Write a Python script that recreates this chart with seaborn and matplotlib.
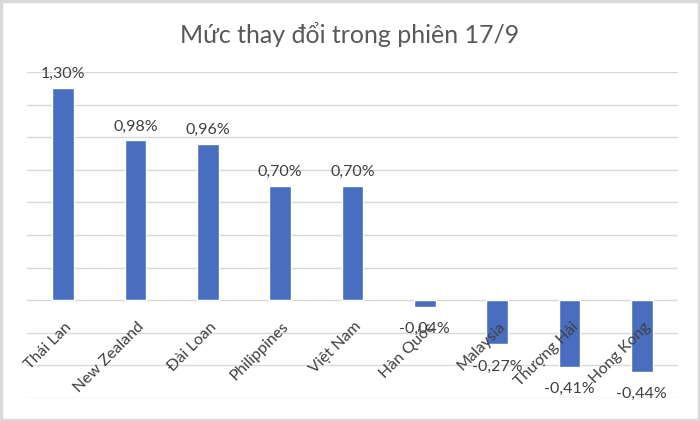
import matplotlib
matplotlib.use("Agg")
import matplotlib.pyplot as plt
import seaborn as sns
import pandas as pd
import numpy as np
from matplotlib.patches import Rectangle

categories = ["Thái Lan", "New Zealand", "Đài Loan", "Philippines", "Việt Nam",
              "Hàn Quốc", "Malaysia", "Thượng Hải", "Hong Kong"]
values = [1.30, 0.98, 0.96, 0.70, 0.70, -0.04, -0.27, -0.41, -0.44]
title = "Mức thay đổi trong phiên 17/9"

sns.set_theme(style="white")
plt.rcParams['font.family'] = ['Lato', 'DejaVu Sans']

df = pd.DataFrame({"country": categories, "change": values})

fig = plt.figure(figsize=(7, 4.21), dpi=100)
ax = fig.add_axes([0.0386, 0.0546, 0.930, 0.7743])

sns.barplot(data=df, x="country", y="change", color="#4A6EBF", saturation=1,
            width=0.3, ax=ax, zorder=3)

ax.set_ylim(-0.6, 1.4)
ax.set_xlim(-0.5, len(categories) - 0.5)
ax.set_yticks(np.arange(-0.6, 1.41, 0.2))
ax.yaxis.grid(True, color="#d9d9d9", linewidth=1)
ax.set_axisbelow(True)
ax.tick_params(axis="y", left=False, labelleft=False)
ax.tick_params(axis="x", bottom=False, length=0)
for s in ax.spines.values():
    s.set_visible(False)
ax.set_xlabel("")
ax.set_ylabel("")

# x tick labels at zero line
ax.set_xticks(range(len(categories)))
ax.set_xticklabels([])
for i, c in enumerate(categories):
    ax.annotate(c, xy=(i, 0), xycoords="data", xytext=(1, -14),
                textcoords="offset points", rotation=45, ha="right", va="top",
                rotation_mode="anchor", fontsize=11.5, color="#404040", zorder=5)

pos_labels = [f"{v:.2f}%".replace(".", ",") if v >= 0 else "" for v in values]
neg_labels = [f"{v:.2f}%".replace(".", ",") if v < 0 else "" for v in values]
ax.bar_label(ax.containers[0], labels=pos_labels, padding=5, fontsize=11.5,
             color="#404040")
ax.bar_label(ax.containers[0], labels=neg_labels, padding=11, fontsize=11.5,
             color="#404040")

fig.text(0.5, 0.918, title, ha="center", va="center", fontsize=18,
         color="#595959")

fig.patches.append(Rectangle((0.002, 0.003), 0.996, 0.994, transform=fig.transFigure,
                             fill=False, edgecolor="#d9d9d9", linewidth=2.5))

fig.savefig("out.png", dpi=100, facecolor="white")
